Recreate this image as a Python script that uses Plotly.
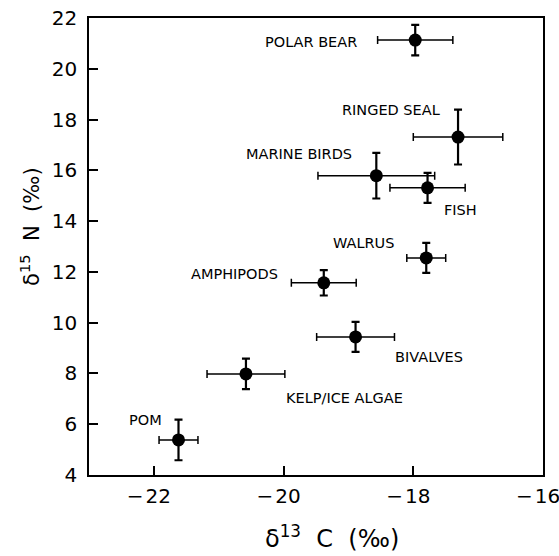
import plotly.graph_objects as go

groups = ["POLAR BEAR", "RINGED SEAL", "MARINE BIRDS", "FISH", "WALRUS",
          "AMPHIPODS", "BIVALVES", "KELP/ICE ALGAE", "POM"]
d13c = [-17.97, -17.31, -18.57, -17.78, -17.80, -19.38, -18.89, -20.58, -21.62]
d13c_sd = [0.58, 0.69, 0.90, 0.58, 0.30, 0.50, 0.60, 0.60, 0.30]
d15n = [21.13, 17.31, 15.79, 15.31, 12.55, 11.57, 9.44, 7.98, 5.38]
d15n_sd = [0.60, 1.08, 0.90, 0.59, 0.59, 0.50, 0.59, 0.60, 0.80]

x_ticks = [-22, -20, -18, -16]
y_ticks = [4, 6, 8, 10, 12, 14, 16, 18, 20, 22]

x_title = "\u03b4<sup>13</sup>  C  (\u2030)"
y_title = "\u03b4<sup>15</sup>  N  (\u2030)"

# label placement (data coords) and anchor
label_x = [-18.83, -17.55, -18.91, -17.55, -18.26, -20.06, -18.32, -20.0, -22.42]
label_y = [21.05, 18.38, 16.65, 14.44, 13.14, 11.92, 8.65, 7.04, 6.17]
label_anchor = ["right", "right", "right", "left", "right", "right", "left", "left", "left"]

fig = go.Figure()
fig.add_trace(go.Scatter(
    x=d13c, y=d15n, mode="markers",
    marker=dict(color="black", size=13),
    error_x=dict(type="data", array=d13c_sd, visible=True, color="black",
                 thickness=1.5, width=4),
    error_y=dict(type="data", array=d15n_sd, visible=True, color="black",
                 thickness=2.2, width=4),
    showlegend=False, hoverinfo="skip",
))

for name, lx, ly, anc in zip(groups, label_x, label_y, label_anchor):
    fig.add_annotation(x=lx, y=ly, text=name, showarrow=False, xanchor=anc,
                       yanchor="middle",
                       font=dict(family="DejaVu Sans", size=14.5, color="black"))

# axis titles
fig.add_annotation(xref="paper", yref="paper", x=0.535, y=-0.136, text=x_title,
                   showarrow=False, xanchor="center", yanchor="middle",
                   font=dict(family="DejaVu Sans", size=24, color="black"))
fig.add_annotation(xref="paper", yref="paper", x=-0.13, y=0.545, text=y_title,
                   showarrow=False, xanchor="center", yanchor="middle", textangle=-90,
                   font=dict(family="DejaVu Sans", size=21, color="black"))

axis_common = dict(showline=True, linecolor="black", linewidth=1.5, mirror=True,
                   ticks="inside", ticklen=9, tickwidth=1.5, tickcolor="black",
                   showgrid=False, zeroline=False, ticklabeloverflow="allow",
                   automargin=False,
                   tickfont=dict(family="DejaVu Sans", size=20, color="black"))

fig.update_xaxes(range=[-23, -16], tickvals=x_ticks,
                 ticktext=["\u2212\u200a" + str(abs(v)) for v in x_ticks],
                 ticklabelshift=-5, ticklabelstandoff=2, **axis_common)
fig.update_yaxes(range=[4, 22], tickvals=y_ticks, ticktext=[str(v) for v in y_ticks],
                 ticklabelstandoff=6, **axis_common)

fig.update_layout(width=559, height=556, margin=dict(l=89, r=16, t=18, b=81),
                  plot_bgcolor="white", paper_bgcolor="white")

fig.write_html("out.html", config={"displayModeBar": False},
               post_script="document.body.style.margin='0';"
                           "document.body.style.overflow='hidden';")
